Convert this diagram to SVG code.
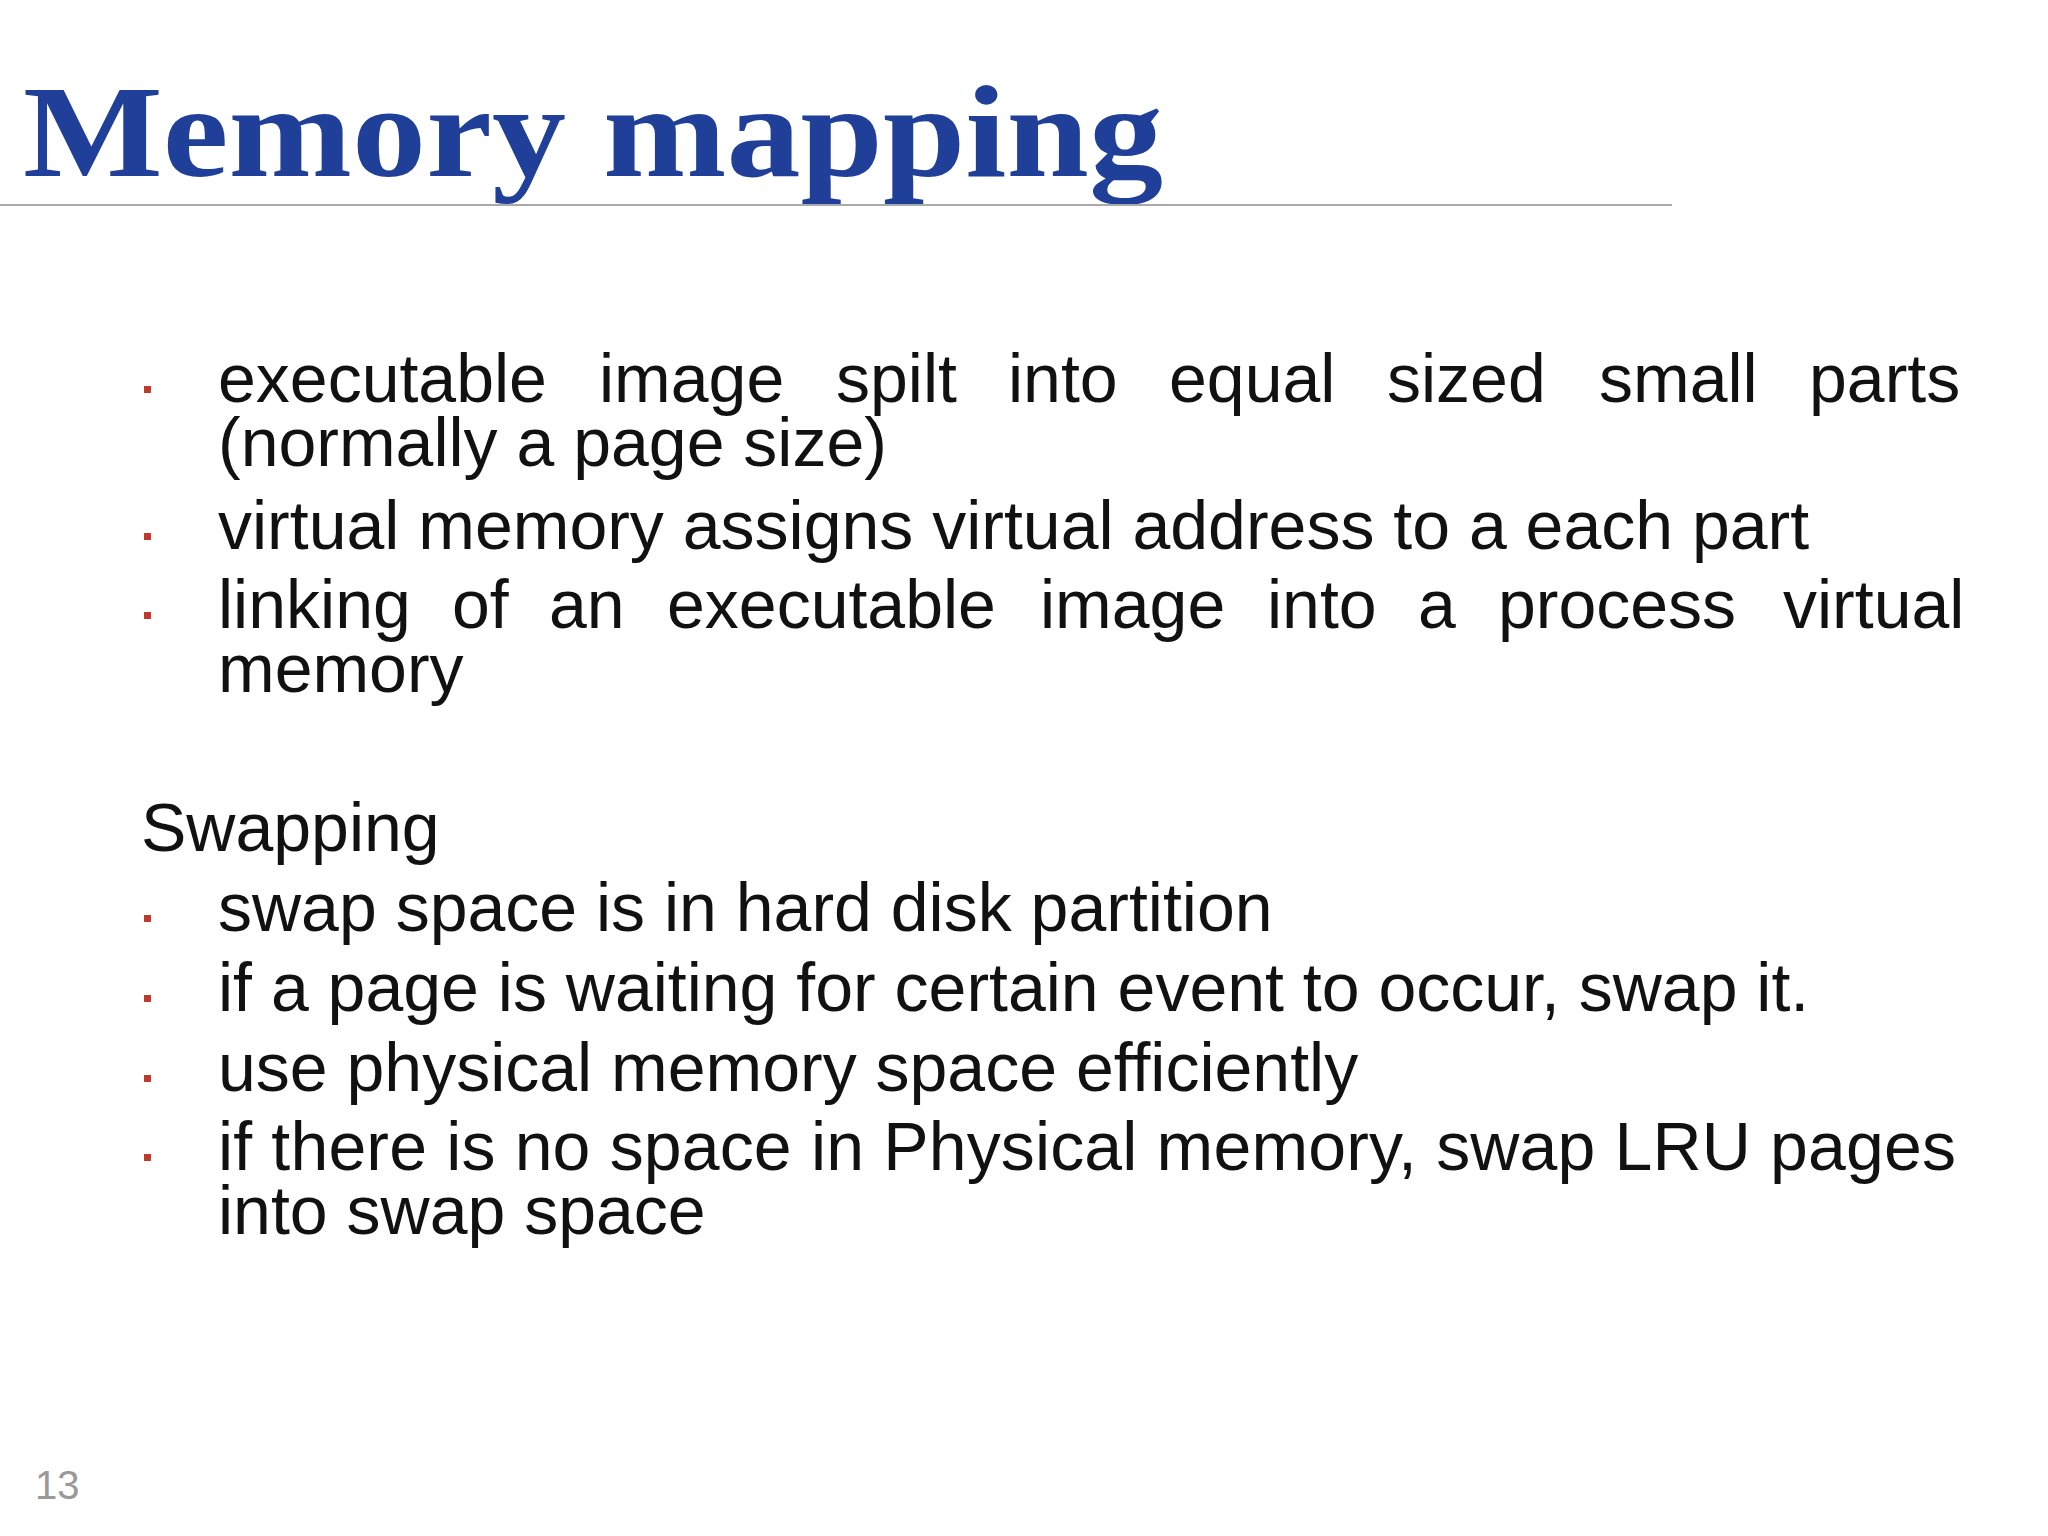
<svg xmlns="http://www.w3.org/2000/svg" width="2048" height="1536" viewBox="0 0 2048 1536">
<style>
.t{font-family:"Liberation Serif",serif;font-weight:bold;fill:#1f3f99;font-size:132px}
.b{font-family:"Liberation Sans",Arial,sans-serif;font-size:68px;fill:#111}
.d{fill:#c0392b}
</style>
<rect width="2048" height="1536" fill="#fff"/>
<g id="title">
<text class="t" x="23" y="176" textLength="1140" lengthAdjust="spacingAndGlyphs">Memory mapping</text>
<line x1="0" y1="205" x2="1672" y2="205" stroke="#aaa" stroke-width="2"/>
</g>
<g id="bullets1">
<rect class="d" x="144" y="386" width="7" height="7"/>
<text class="b" y="402"><tspan x="218">executable</tspan><tspan x="599">image</tspan><tspan x="836">spilt</tspan><tspan x="1008">into</tspan><tspan x="1169">equal</tspan><tspan x="1387">sized</tspan><tspan x="1599">small</tspan><tspan x="1809">parts</tspan></text>
<text class="b" x="218" y="466">(normally a page size)</text>
<rect class="d" x="144" y="533" width="7" height="7"/>
<text class="b" x="218" y="549">virtual memory assigns virtual address to a each part</text>
<rect class="d" x="144" y="612" width="7" height="7"/>
<text class="b" y="628"><tspan x="218">linking</tspan><tspan x="452">of</tspan><tspan x="549">an</tspan><tspan x="667">executable</tspan><tspan x="1040">image</tspan><tspan x="1267">into</tspan><tspan x="1418">a</tspan><tspan x="1498">process</tspan><tspan x="1783">virtual</tspan></text>
<text class="b" x="218" y="692">memory</text>
</g>
<g id="swapping">
<text class="b" x="141" y="851">Swapping</text>
<rect class="d" x="144" y="915" width="7" height="7"/>
<text class="b" x="218" y="931">swap space is in hard disk partition</text>
<rect class="d" x="144" y="995" width="7" height="7"/>
<text class="b" x="218" y="1011">if a page is waiting for certain event to occur, swap it.</text>
<rect class="d" x="144" y="1075" width="7" height="7"/>
<text class="b" x="218" y="1091">use physical memory space efficiently</text>
<rect class="d" x="144" y="1154" width="7" height="7"/>
<text class="b" x="218" y="1170" textLength="1738" lengthAdjust="spacing" word-spacing="0">if there is no space in Physical memory, swap LRU pages</text>
<text class="b" x="218" y="1234">into swap space</text>
</g>
<text x="35" y="1499" font-family="Liberation Sans,sans-serif" font-size="40" fill="#999">13</text>
</svg>
